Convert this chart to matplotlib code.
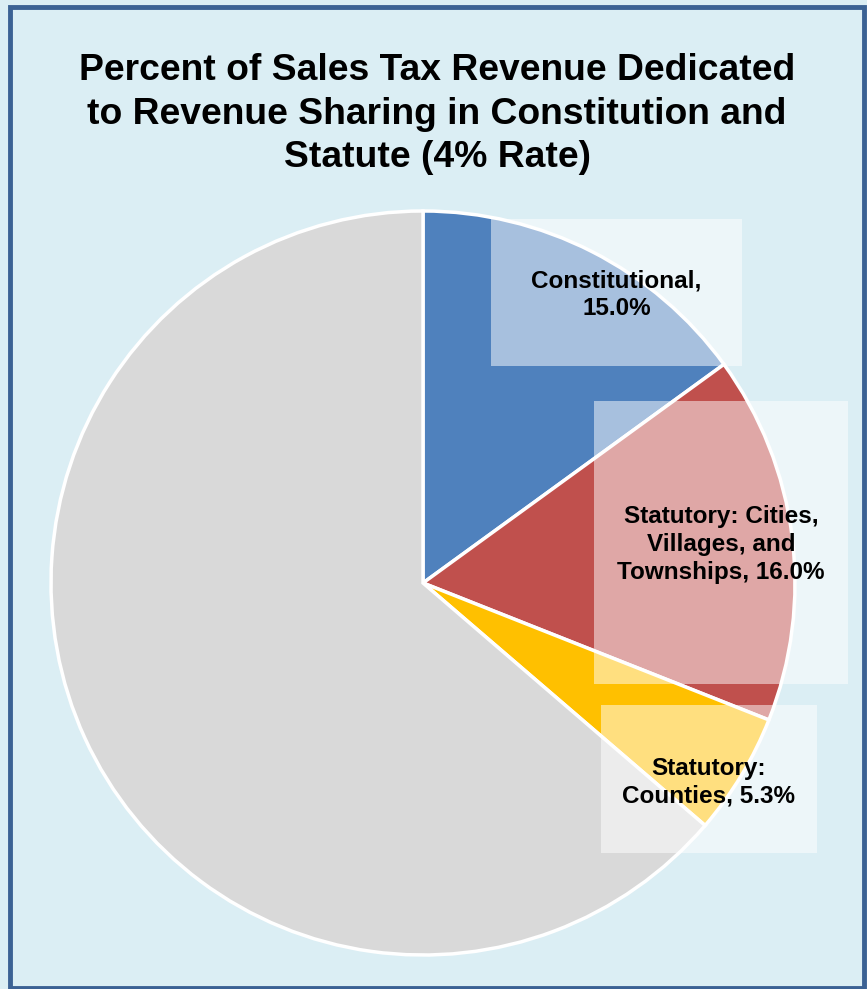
import matplotlib
matplotlib.use("Agg")
import matplotlib.pyplot as plt
from matplotlib.patches import Rectangle

plt.rcParams['font.family'] = ['Liberation Sans', 'DejaVu Sans']

labels = ["Constitutional,\n15.0%", "Statutory: Cities,\nVillages, and\nTownships, 16.0%",
          "Statutory:\nCounties, 5.3%", ""]
values = [15.0, 16.0, 5.3, 63.7]
colors = ["#4F81BD", "#C0504D", "#FFC000", "#D9D9D9"]
title = "Percent of Sales Tax Revenue Dedicated\nto Revenue Sharing in Constitution and\nStatute (4% Rate)"

W, H = 867, 989
fig = plt.figure(figsize=(W / 100, H / 100), dpi=100)
fig.patch.set_facecolor("#DBEEF4")
ax = fig.add_axes([0, 0, 1, 1])

cx, cy, r = 423, H - 583, 372
ax.pie(values, colors=colors, startangle=90, counterclock=False,
       center=(cx, cy), radius=r, frame=True,
       wedgeprops=dict(edgecolor="white", linewidth=2.5))
ax.set_xlim(0, W)
ax.set_ylim(0, H)
ax.set_aspect("equal")
ax.axis("off")

# frame
ax.add_patch(Rectangle((10, 1), 854, H - 8, fill=False, edgecolor="#3B6294",
                       linewidth=3.5, zorder=5))

# label boxes (x0, y0_top, x1, y1_bottom) in pixel coords
boxes = [(491, 219, 742, 366), (594, 401, 848, 684), (601, 705, 817, 853)]
offsets = [2, 2, 3]
for (x0, y0, x1, y1), lab, off in zip(boxes, labels[:3], offsets):
    ax.add_patch(Rectangle((x0, H - y1), x1 - x0, y1 - y0, facecolor="white",
                           alpha=0.5, edgecolor="none", zorder=3))
    ax.text((x0 + x1) / 2, H - (y0 + y1) / 2 - off, lab, ha="center", va="center",
            fontsize=17.5, fontweight="bold", linespacing=1.27, zorder=4)

ax.text(437, H - 114, title, ha="center", va="center", fontsize=26.8,
        fontweight="bold", linespacing=1.31)

fig.savefig("out.png", dpi=100, facecolor=fig.get_facecolor())
